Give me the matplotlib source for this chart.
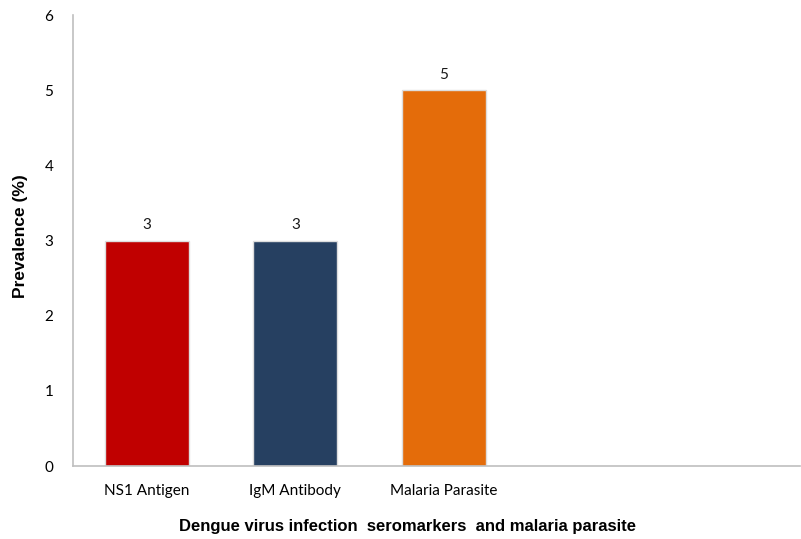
import matplotlib
matplotlib.use("Agg")
import matplotlib.pyplot as plt
import numpy as np

categories = ["NS1 Antigen", "IgM Antibody", "Malaria Parasite"]
prevalence = [3, 3, 5]
bar_colors = ["#C00000", "#264061", "#E46C0A"]

fig = plt.figure(figsize=(8.01, 5.39), dpi=100)
ax = fig.add_axes([0.0908, 0.1354, 0.908, 0.8366])

x = np.arange(len(categories))
bars = ax.bar(x, prevalence, width=0.566, color=bar_colors,
              edgecolor="#DDDDDD", linewidth=1.0, zorder=2)

for xi, v in zip(x, prevalence):
    ax.annotate(f"{v}", (xi, v), xytext=(0, 6), textcoords="offset points",
                ha="center", va="bottom", fontsize=11, family="Lato", color="#1a1a1a")

ax.set_xlim(-0.5, 4.4)
ax.set_ylim(0, 6)
ax.set_yticks(range(7))
ax.set_xticks(x)
ax.set_xticklabels(categories, fontsize=11, family="Lato")
ax.tick_params(axis="y", length=0, pad=14, labelsize=11, labelfontfamily="Lato")
ax.tick_params(axis="x", length=0, pad=13)

for s in ("top", "right"):
    ax.spines[s].set_visible(False)
for s in ("left", "bottom"):
    ax.spines[s].set_color("#BFBFBF")
    ax.spines[s].set_linewidth(1.2)

ax.set_ylabel("Prevalence (%)", fontsize=12.5, fontweight="bold",
              family="Liberation Sans", va="center")
ax.yaxis.set_label_coords(-0.072, 0.51)
ax.set_xlabel("Dengue virus infection  seromarkers  and malaria parasite",
              fontsize=12, fontweight="bold", family="Liberation Sans", va="center")
ax.xaxis.set_label_coords(0.46, -0.135)

fig.savefig("out.png", dpi=100)
